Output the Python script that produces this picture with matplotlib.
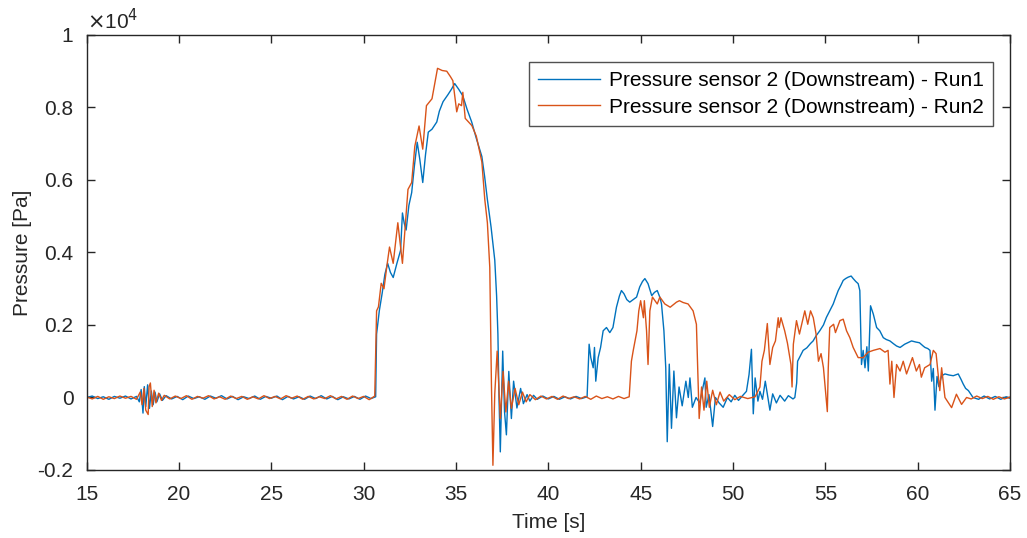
import numpy as np
import matplotlib
matplotlib.use('Agg')
import matplotlib.pyplot as plt
from matplotlib.ticker import FuncFormatter

# (time [s], pressure [Pa])
run1_points = [
    (15.0, 0), (15.3, 40), (15.6, -30), (15.9, 20), (16.2, -50), (16.5, 30), (16.8, -20),
    (17.1, 40), (17.4, -40), (17.7, 30), (17.85, -120), (17.95, 220), (18.05, -430),
    (18.12, 300), (18.2, -250), (18.3, 350), (18.4, -300), (18.5, 180), (18.6, -200),
    (18.7, 150), (18.8, -120), (18.95, 100), (19.1, -80), (19.3, 50), (19.6, -40),
    (19.9, 30), (20.2, -60), (20.5, 40), (20.8, -30), (21.1, 20), (21.4, -50), (21.7, 40),
    (22.0, -20), (22.3, 50), (22.6, -40), (22.9, 30), (23.2, -60), (23.5, 20), (23.8, -30),
    (24.1, 40), (24.4, -50), (24.7, 30), (25.0, -20), (25.3, 40), (25.6, -60), (25.9, 30),
    (26.2, -40), (26.5, 20), (26.8, -50), (27.1, 40), (27.4, -30), (27.7, 50), (28.0, -40),
    (28.3, 30), (28.6, -60), (28.9, 20), (29.2, -40), (29.5, 30), (29.8, -50), (30.1, 40),
    (30.4, -30), (30.65, 20),
    (30.7, 1750), (30.85, 2400), (31.0, 2870), (31.15, 3400), (31.3, 3700), (31.45, 3450),
    (31.6, 3310), (31.8, 3700), (32.0, 4060), (32.1, 5090), (32.2, 4800), (32.3, 4620),
    (32.45, 5300), (32.6, 5650), (32.75, 6400), (32.9, 7040), (33.04, 6570), (33.2, 5930),
    (33.35, 6700), (33.5, 7320), (33.7, 7400), (33.96, 7600), (34.1, 7900), (34.3, 8160),
    (34.56, 8350), (34.75, 8500), (34.93, 8660), (35.15, 8500), (35.37, 8320), (35.6, 7950),
    (35.85, 7600), (36.1, 7150), (36.4, 6650), (36.55, 6100), (36.7, 5460), (36.9, 4700),
    (37.1, 3790), (37.2, 2800), (37.27, 1750), (37.33, 0), (37.4, -1500), (37.53, 1280),
    (37.63, -400), (37.73, -1030), (37.86, 720), (38.0, -580), (38.12, 450), (38.3, -290),
    (38.5, 250), (38.65, -170), (38.85, 80), (39.0, -100), (39.2, 60), (39.4, -50),
    (39.7, 40), (40.0, -40), (40.3, 30), (40.6, -50), (40.9, 20), (41.2, -40), (41.5, 30),
    (41.8, -30), (42.1, 20),
    (42.21, 1470), (42.3, 1100), (42.43, 820), (42.5, 1380), (42.57, 450), (42.7, 1100),
    (42.83, 1380), (42.97, 1840), (43.15, 1930), (43.33, 1790), (43.5, 1930), (43.69, 2490),
    (43.85, 2800), (43.96, 2950), (44.1, 2860), (44.25, 2700), (44.41, 2630), (44.6, 2700),
    (44.78, 2770), (44.95, 3050), (45.1, 3200), (45.23, 3280), (45.4, 3140), (45.6, 2810),
    (45.75, 2900), (45.9, 2950), (46.05, 2750), (46.13, 2580), (46.26, 1840), (46.36, 820),
    (46.44, -1220), (46.55, 920), (46.67, -850), (46.8, 730), (46.94, -560), (47.08, 290),
    (47.25, -230), (47.45, 450), (47.58, 0), (47.67, 540), (47.8, -270), (48.0, 0),
    (48.2, -150), (48.48, 540), (48.55, -270), (48.7, 80), (48.9, -800), (49.05, 0),
    (49.25, -150), (49.47, -270), (49.7, 0), (49.9, -120), (50.1, 60), (50.3, -80),
    (50.5, 40), (50.73, 170), (50.87, 630), (51.0, 1330), (51.1, -450), (51.2, 540),
    (51.35, -100), (51.46, 170), (51.6, -50), (51.75, 450), (52.0, -350), (52.15, 100),
    (52.35, -150), (52.55, 60), (52.8, -100), (53.0, 50), (53.25, -40), (53.35, 0),
    (53.45, 400), (53.5, 1000), (53.65, 1150), (53.8, 1300), (54.0, 1370), (54.2, 1490),
    (54.34, 1560), (54.5, 1700), (54.7, 1840), (54.9, 2000), (55.06, 2210), (55.25, 2400),
    (55.43, 2580), (55.55, 2750), (55.7, 2950), (55.85, 3100), (55.97, 3230), (56.1, 3280),
    (56.24, 3320), (56.4, 3350), (56.51, 3280), (56.65, 3200), (56.78, 3140), (56.87, 2950),
    (56.96, 910), (57.05, 1300), (57.15, 820), (57.25, 1400), (57.33, 730), (57.45, 2530),
    (57.6, 2300), (57.78, 1930), (57.95, 1840), (58.14, 1650), (58.3, 1600), (58.5, 1560),
    (58.7, 1480), (58.86, 1420), (59.05, 1380), (59.3, 1470), (59.5, 1520), (59.67, 1560),
    (59.9, 1530), (60.1, 1510), (60.3, 1420), (60.4, 1380), (60.55, 1350), (60.67, 1300),
    (60.76, 450), (60.85, 800), (60.94, -350), (61.05, 580), (61.15, 300), (61.3, 600),
    (61.48, 650), (61.7, 620), (61.93, 600), (62.2, 650), (62.35, 500), (62.47, 370),
    (62.6, 250), (62.75, 190), (63.0, 0), (63.3, -50), (63.6, 40), (63.9, -40), (64.2, 30),
    (64.5, -50), (64.8, 20), (65.0, -20),
]

run2_points = [
    (15.0, 20), (15.3, -40), (15.6, 30), (15.9, -50), (16.2, 20), (16.5, -30), (16.8, 40),
    (17.1, -20), (17.4, 30), (17.7, -50), (17.9, 150), (18.0, -200), (18.1, 250),
    (18.2, -350), (18.33, -470), (18.38, 300), (18.45, 400), (18.55, -250), (18.65, 200),
    (18.75, -150), (18.9, 120), (19.05, -80), (19.2, 60), (19.5, -40), (19.8, 40),
    (20.1, -30), (20.4, 50), (20.7, -50), (21.0, 30), (21.3, -20), (21.6, 50), (21.9, -40),
    (22.2, 20), (22.5, -50), (22.8, 40), (23.1, -30), (23.4, 30), (23.7, -50), (24.0, 20),
    (24.3, -40), (24.6, 50), (24.9, -30), (25.2, 30), (25.5, -40), (25.8, 50), (26.1, -20),
    (26.4, 40), (26.7, -50), (27.0, 30), (27.3, -40), (27.6, 20), (27.9, -30), (28.2, 50),
    (28.5, -40), (28.8, 30), (29.1, -50), (29.4, 40), (29.7, -30), (30.0, 30), (30.3, -60),
    (30.6, 40),
    (30.7, 2390), (30.8, 2500), (30.95, 3150), (31.1, 3000), (31.25, 3600), (31.4, 4150),
    (31.6, 3700), (31.85, 4820), (32.1, 3700), (32.25, 4700), (32.4, 5740), (32.6, 5930),
    (32.77, 6930), (33.0, 7490), (33.2, 6850), (33.4, 8050), (33.7, 8240), (34.0, 9080),
    (34.25, 9020), (34.5, 9000), (34.7, 8850), (34.83, 8740), (35.04, 7880), (35.15, 8100),
    (35.3, 8050), (35.37, 8420), (35.5, 7700), (35.86, 7500), (36.1, 7210), (36.4, 6500),
    (36.56, 5460), (36.7, 4820), (36.83, 3590), (36.92, 360), (37.0, -1870), (37.1, 100),
    (37.23, 1280), (37.4, -580), (37.55, 720), (37.7, -400), (37.85, 450), (38.0, -300),
    (38.2, 250), (38.4, -200), (38.6, 150), (38.8, -120), (39.0, 80), (39.3, -60),
    (39.6, 40), (39.9, -40), (40.2, 30), (40.5, -50), (40.8, 40), (41.1, -30), (41.4, 20),
    (41.7, -40), (42.0, 30), (42.3, -50), (42.6, 40), (42.9, -30), (43.2, 20), (43.5, -40),
    (43.8, 30), (44.1, -30), (44.38, 20),
    (44.5, 1000), (44.6, 1300), (44.8, 1840), (44.9, 2390), (45.0, 2670), (45.15, 2200),
    (45.2, 2670), (45.32, 1840), (45.4, 910), (45.5, 2390), (45.64, 2770), (45.9, 2580),
    (46.04, 2770), (46.31, 2580), (46.6, 2490), (46.94, 2630), (47.1, 2670), (47.3, 2620),
    (47.57, 2580), (47.84, 2390), (48.02, 2020), (48.09, 820), (48.17, -580), (48.3, 290),
    (48.43, -350), (48.58, 450), (48.72, -270), (48.9, 200), (49.1, -200), (49.3, 150),
    (49.5, -100), (49.8, 80), (50.1, -60), (50.4, 30), (50.8, -30), (51.2, 20),
    (51.46, 290), (51.57, 1000), (51.7, 1300), (51.86, 2040), (52.0, 910), (52.15, 1380),
    (52.3, 1560), (52.45, 2200), (52.5, 1930), (52.6, 2200), (52.8, 1840), (52.95, 1500),
    (53.14, 910), (53.2, 290), (53.27, 1470), (53.44, 2120), (53.6, 1750), (53.89, 2390),
    (54.05, 2020), (54.2, 2390), (54.35, 2200), (54.5, 1750), (54.63, 1000), (54.77, 1210),
    (54.9, 820), (55.11, -390), (55.16, 800), (55.24, 1930), (55.45, 2020), (55.55, 1790),
    (55.79, 2120), (55.97, 2160), (56.15, 1840), (56.33, 1650), (56.51, 1380), (56.78, 1100),
    (57.05, 1100), (57.32, 1250), (57.6, 1300), (57.96, 1350), (58.23, 1250), (58.4, 1300),
    (58.5, 370), (58.6, 1000), (58.72, 0), (58.86, 910), (59.05, 730), (59.22, 1000),
    (59.4, 650), (59.72, 1100), (59.93, 730), (60.1, 910), (60.2, 560), (60.38, 820),
    (60.67, 910), (60.85, 1300), (61.0, 1210), (61.2, 190), (61.3, 820), (61.48, 0),
    (61.84, -280), (62.1, 90), (62.38, -190), (62.65, 0), (62.9, -40), (63.2, 40),
    (63.5, -30), (63.8, 30), (64.1, -50), (64.4, 20), (64.7, -40), (65.0, 10),
]

labels = ['Pressure sensor 2 (Downstream) - Run1', 'Pressure sensor 2 (Downstream) - Run2']
colors = ['#0072BD', '#D95319']

plt.rcParams['font.family'] = ['Liberation Sans', 'DejaVu Sans']
fig = plt.figure(figsize=(10.27, 5.38), dpi=100)
ax = fig.add_axes([0.0844, 0.1264, 0.899, 0.8086])

for pts, lab, col in zip([run1_points, run2_points], labels, colors):
    arr = np.array(pts, dtype=float)
    ax.plot(arr[:, 0], arr[:, 1], color=col, linewidth=1.0, label=lab)

ax.set_xlim(15, 65)
ax.set_ylim(-2000, 10000)
ax.set_xticks(np.arange(15, 66, 5))
ax.set_yticks(np.arange(-2000, 10001, 2000))

def fmt(v, pos):
    return '%g' % (v / 1e4)
ax.yaxis.set_major_formatter(FuncFormatter(fmt))

dark = '#262626'
for sp in ax.spines.values():
    sp.set_color(dark)
    sp.set_linewidth(1.0)
ax.tick_params(direction='in', top=True, right=True, length=6, width=1.0,
               colors=dark, labelsize=15)
ax.tick_params(axis='x', pad=11)
ax.tick_params(axis='y', pad=9.5)
ax.set_xlabel('Time [s]', fontsize=15, color=dark, labelpad=6)
ax.set_ylabel('Pressure [Pa]', fontsize=15, color=dark, labelpad=4)
ax.text(0.0, 1.005, r'$\times$10$^4$', transform=ax.transAxes, fontsize=15,
        color=dark, ha='left', va='bottom')

leg = ax.legend(loc='upper right', bbox_to_anchor=(0.9816, 0.938), fontsize=15,
                frameon=True, fancybox=False, handlelength=3.0, borderaxespad=0,
                borderpad=0.45, labelspacing=0.35, handletextpad=0.4)
leg.get_frame().set_edgecolor(dark)
leg.get_frame().set_linewidth(1.0)

fig.savefig('out.png', dpi=100)
